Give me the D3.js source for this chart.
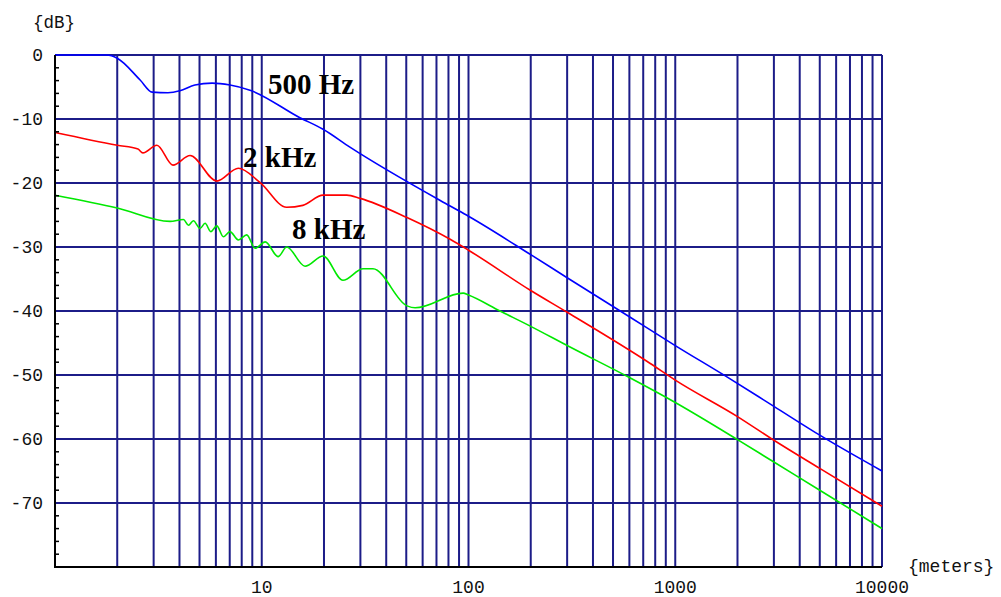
<!DOCTYPE html>
<html>
<head>
<meta charset="utf-8">
<script src="https://cdn.jsdelivr.net/npm/d3@7"></script>
<style>
  body { margin: 0; background: #fff; }
  svg { display: block; }
</style>
</head>
<body>
<div id="chart"></div>
<script>
// Distances (meters) and attenuation (dB)
const dist500 = [1, 1.78, 2.0, 2.58, 2.95, 3.52, 4.02, 4.75, 5.75, 7.02, 8.77, 15.3, 19.8, 26.7, 81.5, 100, 200, 300, 600, 1000, 1778, 3000, 5117, 10000];
const db500   = [0, 0, -0.5, -3.9, -5.8, -5.9, -5.6, -4.7, -4.4, -4.7, -5.5, -9.8, -11.6, -14.4, -23.6, -25.2, -31.2, -34.8, -40.9, -45.4, -50.3, -54.9, -59.6, -65.0];

const dist2k = [1, 2.0, 2.52, 2.66, 3.11, 3.72, 4.5, 6.06, 7.7, 9.8, 13.2, 15.8, 19.8, 25.8, 29.9, 50.4, 81.5, 100, 200, 300, 757, 1000, 2000, 3000, 5000, 10000];
const db2k   = [-12.1, -14.1, -14.7, -15.3, -14.1, -17.2, -15.7, -19.7, -17.7, -19.9, -23.8, -23.5, -21.9, -21.9, -22.4, -25.4, -28.8, -30.5, -36.8, -40.2, -48.2, -50.8, -56.5, -60.2, -64.6, -70.5];

const dist8k = [1, 2.0, 3.6, 4.18, 4.42, 4.67, 5.03, 5.32, 5.67, 6.06, 6.52, 7.02, 7.71, 8.46, 9.28, 10.4, 12.0, 13.2, 16.2, 19.8, 24.7, 30.9, 34.5, 50.4, 55.2, 94.2, 100, 142, 200, 300, 600, 1000, 2000, 3000, 5000, 10000];
const db8k   = [-21.9, -23.9, -26.0, -25.7, -26.6, -25.9, -27.1, -26.3, -27.6, -26.7, -28.4, -27.6, -28.9, -28.1, -30.2, -29.2, -31.5, -30.0, -33.0, -31.4, -35.2, -33.4, -33.4, -39.2, -39.5, -37.2, -37.5, -40.0, -42.4, -45.4, -50.4, -54.3, -60.1, -63.6, -68.0, -74.0];

const xTickLabels = [10, 100, 1000, 10000];
const yTickLabels = [0, -10, -20, -30, -40, -50, -60, -70];

const series = [
    { name: "500 Hz", dist: dist500, db: db500, color: "#0000ff", lx: 268, ly: 94 },
    { name: "2 kHz",  dist: dist2k,  db: db2k,  color: "#ff0000", lx: 243, ly: 167 },
    { name: "8 kHz",  dist: dist8k,  db: db8k,  color: "#00e800", lx: 292, ly: 239 }
];

const width = 1001, height = 597;
const plot = { left: 55, right: 882, top: 55, bottom: 567 };

const svg = d3.select("#chart").append("svg")
    .attr("width", width)
    .attr("height", height);

const x = d3.scaleLog().domain([1, 10000]).range([plot.left, plot.right]);
const y = d3.scaleLinear().domain([-80, 0]).range([plot.bottom, plot.top]);

const gridColor = "#1c1c88";
const mono = "'Liberation Mono', 'DejaVu Sans Mono', monospace";

// Vertical grid lines at 2..9 of every decade
svg.append("g")
    .selectAll("line")
    .data(x.ticks().filter(d => d > 1))
    .join("line")
    .attr("x1", d => x(d)).attr("x2", d => x(d))
    .attr("y1", plot.top).attr("y2", plot.bottom)
    .attr("stroke", gridColor)
    .attr("stroke-width", 2);

// Horizontal grid lines every 10 dB
svg.append("g")
    .selectAll("line")
    .data(yTickLabels)
    .join("line")
    .attr("x1", plot.left).attr("x2", plot.right)
    .attr("y1", d => y(d)).attr("y2", d => y(d))
    .attr("stroke", gridColor)
    .attr("stroke-width", 2);

// Curves
const line = d3.line()
    .x(d => x(d[0]))
    .y(d => y(d[1]))
    .curve(d3.curveMonotoneX);

series.forEach(s => {
    svg.append("path")
        .datum(s.dist.map((d, i) => [d, s.db[i]]))
        .attr("fill", "none")
        .attr("stroke", s.color)
        .attr("stroke-width", 1.6)
        .attr("d", line);

    svg.append("text")
        .attr("x", s.lx)
        .attr("y", s.ly)
        .attr("font-family", "'Liberation Serif', 'Times New Roman', serif")
        .attr("font-weight", "bold")
        .attr("font-size", 29)
        .attr("fill", "#000")
        .text(s.name);
});

// Axes (black)
svg.append("line")
    .attr("x1", plot.left).attr("x2", plot.left)
    .attr("y1", plot.top).attr("y2", plot.bottom + 1)
    .attr("stroke", "#000").attr("stroke-width", 2);
svg.append("line")
    .attr("x1", plot.left - 1).attr("x2", plot.right)
    .attr("y1", plot.bottom).attr("y2", plot.bottom)
    .attr("stroke", "#000").attr("stroke-width", 2);

// Minor ticks on y axis every 2 dB
svg.append("g")
    .selectAll("line")
    .data(y.ticks(40).filter(d => d % 10 !== 0))
    .join("line")
    .attr("x1", plot.left).attr("x2", plot.left + 4)
    .attr("y1", d => y(d)).attr("y2", d => y(d))
    .attr("stroke", "#000")
    .attr("stroke-width", 1.5);

// Y labels
svg.append("g")
    .selectAll("text")
    .data(yTickLabels)
    .join("text")
    .attr("x", 43)
    .attr("y", d => y(d))
    .attr("dy", "0.35em")
    .attr("text-anchor", "end")
    .attr("font-family", mono)
    .attr("font-size", 18)
    .attr("fill", "#111")
    .text(d => d === 0 ? "0" : "-" + Math.abs(d));

// X labels
svg.append("g")
    .selectAll("text")
    .data(xTickLabels)
    .join("text")
    .attr("x", d => x(d))
    .attr("y", 587)
    .attr("dy", "0.35em")
    .attr("text-anchor", "middle")
    .attr("font-family", mono)
    .attr("font-size", 18)
    .attr("fill", "#111")
    .text(d => d);

// Unit labels
svg.append("text")
    .attr("x", 33).attr("y", 22).attr("dy", "0.35em")
    .attr("font-family", mono).attr("font-size", 17.5).attr("fill", "#111")
    .text("{dB}");
svg.append("text")
    .attr("x", 908).attr("y", 566).attr("dy", "0.35em")
    .attr("font-family", mono).attr("font-size", 18).attr("fill", "#111")
    .text("{meters}");
</script>
</body>
</html>
